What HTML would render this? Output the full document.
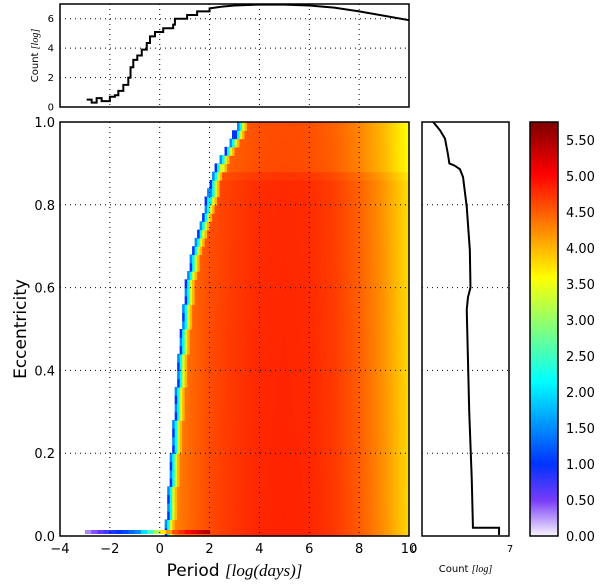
<!DOCTYPE html>
<html><head><meta charset="utf-8">
<style>
html,body{margin:0;padding:0;background:#fff;}
svg{display:block;font-family:"DejaVu Sans","Liberation Sans",sans-serif;}
</style></head>
<body>
<svg id="fig" width="600" height="585" viewBox="0 0 600 585" xmlns="http://www.w3.org/2000/svg"></svg>
<script>
// ---- data ----
const xTicks = [-4,-2,0,2,4,6,8,10];
const yTicks = [0.0,0.2,0.4,0.6,0.8,1.0];
const topTicks = [0,2,4,6];
const cbTicks = [0,0.5,1,1.5,2,2.5,3,3.5,4,4.5,5,5.5];
// top histogram (log period -> log count); staircase until p=2, smooth after
const histP = [-2.93,-2.73,-2.6,-2.53,-2.33,-2.0,-1.8,-1.66,-1.46,-1.26,-1.17,-1.06,-0.9,-0.72,-0.52,-0.39,-0.19,0.14,0.54,0.61,1.1,1.5,2,2.5,3,4,5,6,7,8,9,10];
const histC = [0.5,0.3,0.3,0.6,0.4,0.7,0.8,1.1,1.5,2.0,2.7,3.2,3.5,3.9,4.35,4.8,5.1,5.35,5.6,6.0,6.25,6.5,6.7,6.82,6.9,6.96,6.96,6.9,6.75,6.5,6.2,5.9];
// right histogram (eccentricity -> log count)
const rhE = [1.0,0.98,0.96,0.92,0.90,0.895,0.886,0.867,0.795,0.69,0.60,0.577,0.546,0.30,0.14,0.02,0.02];
const rhC = [0.9,1.45,1.85,2.1,2.2,2.6,3.05,3.3,3.6,3.85,3.9,3.7,3.6,3.8,4.0,4.1,6.2];
// heatmap: value profile vs log period, adjustment vs eccentricity, and inner edge
const colP = [0,0.7,1.3,2,3,4,5,6,7,8,9,9.6,10];
const colV = [4.2,4.3,4.45,4.6,4.72,4.8,4.82,4.8,4.7,4.5,4.2,3.95,3.8];
const rowE = [0,0.5,0.86,0.89,1.0];
const rowAdj = [0.02,0,-0.02,-0.2,-0.22];
const edgeE = [0,0.2,0.4,0.6,0.7,0.8,0.9,0.97,1.0];
const edgeP = [0.2,0.45,0.7,1.0,1.35,1.8,2.3,2.95,3.2];
const stripP = [-3,-2.5,-2,-1.5,-1,-0.5,0,0.5,1,1.5,2];
const stripV = [0.3,0.6,0.9,1.1,1.5,2.5,3.7,4.6,5.0,5.3,5.6];
</script>
<script>
const NS="http://www.w3.org/2000/svg";
const svg=document.getElementById('fig');
function mk(tag,attrs,parent){const e=document.createElementNS(NS,tag);for(const k in attrs)e.setAttribute(k,attrs[k]);(parent||svg).appendChild(e);return e;}
const M={l:60,r:409,t:122,b:536};
const sx=p=>M.l+(p+4)/14*(M.r-M.l);
const sy=e=>M.b-e*(M.b-M.t);
const T={t:4,b:107};
const ty=c=>T.b-c/7*(T.b-T.t);
const R={l:422,r:509};
const rx=c=>R.l+c/7*(R.r-R.l);
const C={l:530,r:558,vmax:5.75};
const cy=v=>M.b-v/C.vmax*(M.b-M.t);
function interp(xs,ys,x){if(x<=xs[0])return ys[0];for(let i=1;i<xs.length;i++){if(x<=xs[i]){const t=(x-xs[i-1])/(xs[i]-xs[i-1]);return ys[i-1]+t*(ys[i]-ys[i-1]);}}return ys[ys.length-1];}
function jetRaw(s){const cl=x=>Math.max(0,Math.min(1,x));return [cl(1.5-Math.abs(4*s-3)),cl(1.5-Math.abs(4*s-2)),cl(1.5-Math.abs(4*s-1))].map(x=>x*255);}
function mix(a,b,t){return a.map((v,i)=>v+(b[i]-v)*t);}
function jet(v){
  const t=Math.max(0,Math.min(1,v/C.vmax));
  let c;
  const w=[250,248,252],vi=[120,60,250],bl=jetRaw(0.175);
  if(t<0.087)c=mix(w,vi,t/0.087);
  else if(t<0.175)c=mix(vi,bl,(t-0.087)/0.088);
  else c=jetRaw(t);
  return `rgb(${c.map(Math.round).join(',')})`;
}
// heatmap
const hm=mk('g',{});


const dp=0.1,de=0.02;
for(let ej=0;ej<50;ej++){
  const e0=ej*de,e1=e0+de,em=e0+de/2;
  const edge=interp(edgeE,edgeP,em);
  for(let pi=0;pi<100;pi++){
    const p0=pi*dp,p1=p0+dp,pm=p0+dp/2;
    if(pm<edge)continue;
    let v=interp(colP,colV,pm)+interp(rowE,rowAdj,em);
    const d=pm-edge;
    if(d<dp)v=1.0+(ej%2)*0.5;else if(d<2*dp)v=2.2;else if(d<3*dp)v=3.4;else if(d<4*dp)v=Math.min(v,4.0);
    const c=mk('rect',{x:sx(p0),y:sy(e1),width:sx(p1)-sx(p0)+0.6,height:sy(e0)-sy(e1)+0.6,fill:jet(v)},hm);
    
    
  }
}
for(let i=0;i<stripP.length-1;i++){
  for(let k=0;k<2;k++){
    const p0=stripP[i]+k*0.25;
    const v=stripV[i]+(stripV[i+1]-stripV[i])*k/2;
    const c=mk('rect',{x:sx(p0),y:530,width:sx(p0+0.25)-sx(p0)+0.5,height:4,fill:jet(v)},hm);
    
    
  }
}
const grid={stroke:'#000','stroke-width':1,'stroke-dasharray':'1,4'};
xTicks.slice(1,-1).forEach(p=>{const g=mk('line',Object.assign({x1:sx(p),x2:sx(p),y1:M.t,y2:M.b},grid));});
yTicks.slice(1,-1).forEach(e=>{const g=mk('line',Object.assign({x1:M.l,x2:M.r,y1:sy(e),y2:sy(e)},grid));});
const mainFrame=mk('rect',{x:M.l,y:M.t,width:M.r-M.l,height:M.b-M.t,fill:'none',stroke:'#000','stroke-width':1.5});


xTicks.forEach(p=>{
  const t=mk('text',{x:sx(p),y:M.b+17,'font-size':13,'text-anchor':'middle'});t.textContent=(p<0?'\u2212'+(-p):p);
  
});
yTicks.forEach(e=>{
  const t=mk('text',{x:M.l-5,y:sy(e)+5,'font-size':13,'text-anchor':'end'});t.textContent=e.toFixed(1);
  
});
const xl=mk('text',{x:(M.l+M.r)/2,y:576,'font-size':17,'text-anchor':'middle'});
xl.innerHTML='Period <tspan font-family="Liberation Serif" font-style="italic">[log(days)]</tspan>';

const yl=mk('text',{x:0,y:0,'font-size':17,'text-anchor':'middle',transform:`translate(26,${(M.t+M.b)/2}) rotate(-90)`});
yl.textContent='Eccentricity';

// top histogram
xTicks.slice(1,-1).forEach(p=>{const g=mk('line',Object.assign({x1:sx(p),x2:sx(p),y1:T.t,y2:T.b},grid));});
topTicks.slice(1).forEach(c=>{const g=mk('line',Object.assign({x1:M.l,x2:M.r,y1:ty(c),y2:ty(c)},grid));});
let d='';
histP.forEach((p,i)=>{
  const y=ty(histC[i]);
  if(i===0){d+='M'+sx(p)+','+y;return;}
  if(p<=2.01)d+='L'+sx(p)+','+ty(histC[i-1])+'L'+sx(p)+','+y;
  else d+='L'+sx(p)+','+y;
});
const tl=mk('path',{d:d,fill:'none',stroke:'#000','stroke-width':2});

const tf=mk('rect',{x:M.l,y:T.t,width:M.r-M.l,height:T.b-T.t,fill:'none',stroke:'#000','stroke-width':1.5});

topTicks.forEach(c=>{
  const t=mk('text',{x:M.l-6,y:ty(c)+3.5,'font-size':10,'text-anchor':'end'});t.textContent=c;
  
});
const tyl=mk('text',{x:0,y:0,'font-size':10,'text-anchor':'middle',transform:`translate(38,${(T.t+T.b)/2}) rotate(-90)`});
tyl.innerHTML='Count <tspan font-family="Liberation Serif" font-style="italic">[log]</tspan>';

// right histogram
yTicks.slice(1,-1).forEach(e=>{const g=mk('line',Object.assign({x1:R.l,x2:R.r,y1:sy(e),y2:sy(e)},grid));});
let d2='';
rhE.forEach((e,i)=>{
  d2+=(i?'L':'M')+rx(rhC[i])+','+sy(e);
});
d2+='L'+rx(rhC[rhC.length-1])+','+(sy(0)-1);
const rl=mk('path',{d:d2,fill:'none',stroke:'#000','stroke-width':2});

const rf=mk('rect',{x:R.l,y:M.t,width:R.r-R.l,height:M.b-M.t,fill:'none',stroke:'#000','stroke-width':1.5});

[[0,R.l-8],[7,R.r+1]].forEach(([v,x])=>{
  const t=mk('text',{x:x,y:M.b+16,'font-size':10,'text-anchor':'middle'});t.textContent=v;
  
});
const rxl=mk('text',{x:(R.l+R.r)/2,y:M.b+36,'font-size':10,'text-anchor':'middle'});
rxl.innerHTML='Count <tspan font-family="Liberation Serif" font-style="italic">[log]</tspan>';

// colorbar
const cb=mk('g',{});

for(let i=0;i<230;i++){
  const v0=i/230*C.vmax,v1=(i+1)/230*C.vmax;
  mk('rect',{x:C.l,y:cy(v1),width:C.r-C.l,height:cy(v0)-cy(v1)+0.5,fill:jet((v0+v1)/2)},cb);
}
mk('rect',{x:C.l,y:M.t,width:C.r-C.l,height:M.b-M.t,fill:'none',stroke:'#000','stroke-width':1.5},cb);
cbTicks.forEach(v=>{
  const t=mk('text',{x:C.r+8,y:cy(v)+5,'font-size':13});t.textContent=v.toFixed(2);
  
});
</script>
</body></html>
